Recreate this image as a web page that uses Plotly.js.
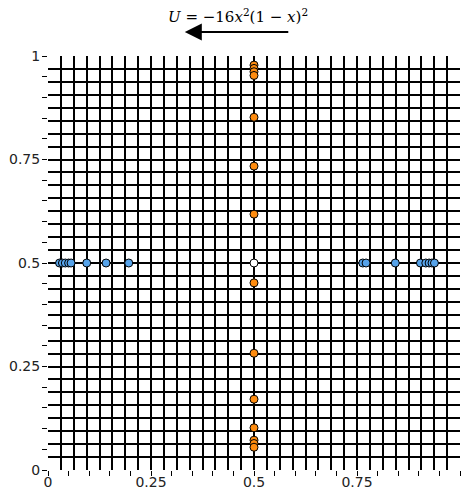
<!DOCTYPE html>
<html>
<head>
<meta charset="utf-8">
<script src="https://cdn.plot.ly/plotly-3.0.1.min.js"></script>
<style>html,body{margin:0;padding:0;background:#fff;}#chart{width:462px;height:489px;}</style>
</head>
<body>
<div id="chart"></div>
<script>
// Blue points along y = 0.5
const blueX = [0.028, 0.035, 0.042, 0.050, 0.056, 0.094, 0.141, 0.196,
               0.764, 0.772, 0.843, 0.904, 0.917, 0.925, 0.932, 0.938];
const blueY = [0.5, 0.5, 0.5, 0.5, 0.5, 0.5, 0.5, 0.5,
               0.5, 0.5, 0.5, 0.5, 0.5, 0.5, 0.5, 0.5];
// Orange points along x = 0.5
const orangeX = [0.5, 0.5, 0.5, 0.5, 0.5, 0.5, 0.5,
                 0.5, 0.5, 0.5, 0.5, 0.5, 0.5, 0.5];
const orangeY = [0.978, 0.970, 0.962, 0.953, 0.852, 0.734, 0.618,
                 0.452, 0.282, 0.171, 0.102, 0.072, 0.064, 0.055];
// Center point
const centerX = [0.5];
const centerY = [0.5];

// Ticks
const tickVals = [0, 0.05, 0.1, 0.15, 0.2, 0.25, 0.3, 0.35, 0.4, 0.45, 0.5,
                  0.55, 0.6, 0.65, 0.7, 0.75, 0.8, 0.85, 0.9, 0.95, 1];
const tickText = ['0', '', '', '', '', '0.25', '', '', '', '', '0.5',
                  '', '', '', '', '0.75', '', '', '', '', '1'];
const gridStep = 1 / 32;

const titleText = '<i>U</i> = −16<i>x</i><sup>2</sup>(1 − <i>x</i>)<sup>2</sup>';

const mk = (c) => ({size: 8, color: c, line: {color: '#000', width: 1}});

const traces = [
  {x: blueX, y: blueY, type: 'scatter', mode: 'markers', marker: mk('#56a3ea'), hoverinfo: 'skip'},
  {x: orangeX, y: orangeY, type: 'scatter', mode: 'markers', marker: mk('#ff8c0f'), hoverinfo: 'skip'},
  {x: centerX, y: centerY, type: 'scatter', mode: 'markers', marker: mk('#ffffff'), hoverinfo: 'skip'},
  {x: [], y: [], xaxis: 'x2', yaxis: 'y2', type: 'scatter', mode: 'markers', hoverinfo: 'skip'}
];

const gridAxis = {
  range: [0, 1], tickmode: 'linear', tick0: 0, dtick: gridStep,
  showgrid: true, gridcolor: '#000', gridwidth: 2,
  showticklabels: false, ticks: '', zeroline: false, showline: false, fixedrange: true
};
const tickAxis = {
  range: [0, 1], tickmode: 'array', tickvals: tickVals, ticktext: tickText,
  ticks: 'outside', ticklen: 5, tickwidth: 1, tickcolor: '#000',
  showgrid: false, zeroline: false, showline: false, fixedrange: true,
  tickfont: {family: 'DejaVu Sans', size: 14, color: '#222'}
};

const layout = {
  width: 462, height: 489,
  margin: {l: 48, r: 2, t: 56, b: 19},
  paper_bgcolor: '#fff', plot_bgcolor: '#fff',
  showlegend: false,
  xaxis: gridAxis,
  yaxis: Object.assign({}, gridAxis),
  xaxis2: Object.assign({}, tickAxis, {overlaying: 'x', anchor: 'y', side: 'bottom', ticklabelstandoff: -6}),
  yaxis2: Object.assign({}, tickAxis, {overlaying: 'y', anchor: 'x', side: 'left', ticklabelstandoff: -1}),
  annotations: [
    {xref: 'paper', yref: 'paper', x: 0.46, y: 1.097, text: titleText, showarrow: false,
     xanchor: 'center', yanchor: 'middle', font: {family: 'DejaVu Serif', size: 15, color: '#000'}},
    {xref: 'paper', yref: 'paper', x: 0.332, y: 1.058, text: '', showarrow: true,
     ax: 105, ay: 0, arrowhead: 2, arrowsize: 1.7, arrowwidth: 2, arrowcolor: '#000'}
  ]
};

Plotly.newPlot('chart', traces, layout, {displayModeBar: false, staticPlot: true});
</script>
</body>
</html>
